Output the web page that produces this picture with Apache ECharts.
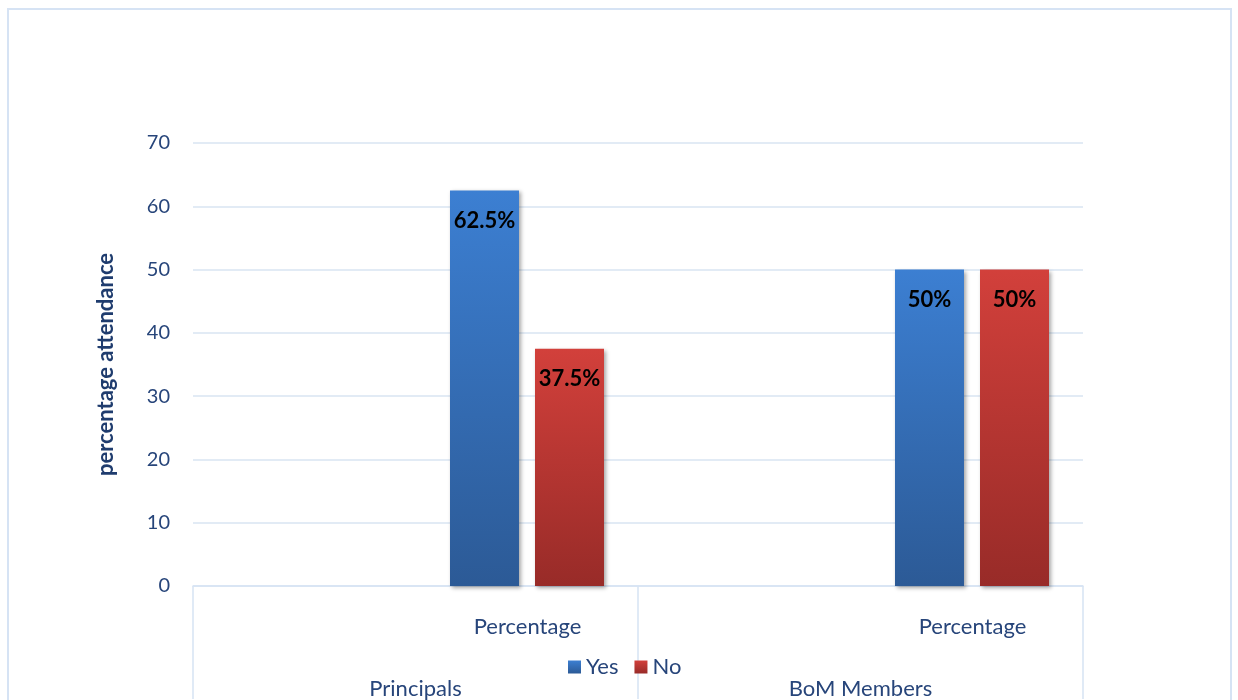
<!DOCTYPE html>
<html>
<head>
<meta charset="utf-8">
<script src="https://cdn.jsdelivr.net/npm/echarts@6/dist/echarts.min.js"></script>
<style>
    body { margin: 0; background: #fff; }
    #chart { position: absolute; left: 0; top: 0; width: 1238px; height: 700px; }
    #frame { position: absolute; left: 7px; top: 8px; width: 1221px; height: 720px; border: 2px solid #d6e3f4; pointer-events: none; }
</style>
</head>
<body>
<div id="chart"></div>
<div id="frame"></div>
<script>
const groups = ['Principals', 'BoM Members'];
const subLabels = ['Percentage', 'Percentage'];
const yesValues = [62.5, 50];
const noValues = [37.5, 50];
const yTicks = { min: 0, max: 70, interval: 10 };

const textColor = '#27457a';
const fontFamily = 'Lato, "Open Sans", sans-serif';

function gradient(top, bottom) {
    return new echarts.graphic.LinearGradient(0, 0, 0, 1, [
        { offset: 0, color: top },
        { offset: 1, color: bottom }
    ]);
}

function barSeries(name, values, top, bottom) {
    return {
        name: name,
        type: 'bar',
        barWidth: 69,
        barGap: '23.2%',
        data: values,
        itemStyle: {
            color: gradient(top, bottom),
            shadowBlur: 4,
            shadowOffsetX: 2,
            shadowOffsetY: 2,
            shadowColor: 'rgba(0,0,0,0.35)'
        },
        label: {
            show: true,
            position: 'insideTop',
            distance: 19,
            formatter: p => p.value + '%',
            color: '#000',
            fontSize: 22,
            fontWeight: 'bold',
            fontFamily: fontFamily
        }
    };
}

let chart = echarts.init(document.getElementById('chart'));

let option = {
    animation: false,
    grid: { left: 193, right: 155, top: 143, bottom: 113 },
    legend: {
        data: ['Yes', 'No'],
        left: 563,
        top: 651,
        icon: 'rect',
        itemWidth: 13,
        itemHeight: 13,
        itemGap: 16,
        textStyle: { color: textColor, fontSize: 22, fontFamily: fontFamily }
    },
    xAxis: [
        {
            type: 'category',
            data: groups,
            position: 'bottom',
            axisLine: { lineStyle: { color: '#d6e3f4', width: 1.5 } },
            axisTick: { show: true, length: 113, lineStyle: { color: '#d6e3f4', width: 1.5 } },
            axisLabel: {
                interval: 0,
                margin: 92,
                color: textColor,
                fontSize: 22,
                fontFamily: fontFamily
            }
        },
        {
            type: 'category',
            data: subLabels,
            position: 'bottom',
            axisLine: { show: false },
            axisTick: { show: false },
            axisLabel: {
                interval: 0,
                margin: 30,
                padding: [0, 0, 0, 224],
                color: textColor,
                fontSize: 22,
                fontFamily: fontFamily
            }
        }
    ],
    yAxis: {
        type: 'value',
        min: yTicks.min,
        max: yTicks.max,
        interval: yTicks.interval,
        name: 'percentage attendance',
        nameLocation: 'middle',
        nameGap: 76,
        nameTextStyle: { color: '#1f3c6e', fontSize: 22, fontWeight: 'bold', fontFamily: fontFamily },
        axisLine: { show: false },
        axisTick: { show: false },
        axisLabel: { color: textColor, fontSize: 20, margin: 23, fontFamily: fontFamily },
        splitLine: { lineStyle: { color: '#d9e4f2', width: 1.5 } }
    },
    series: [
        // empty slot, pushes the two bars to the right of each group like the original
        { name: 'spacer', type: 'bar', barWidth: 181, barGap: '23.2%', data: [] },
        barSeries('Yes', yesValues, '#3c7fd2', '#2c5a96'),
        barSeries('No', noValues, '#d2403b', '#982b28')
    ]
};

chart.setOption(option);
</script>
</body>
</html>
